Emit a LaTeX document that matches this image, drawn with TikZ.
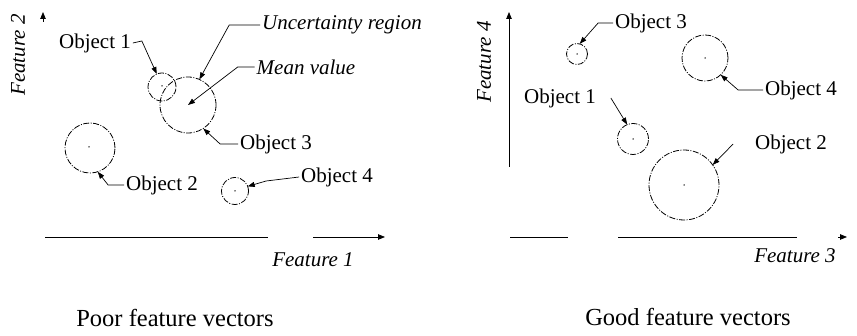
\documentclass[tikz,border=0pt]{standalone}
\usepackage{fontspec}
\setmainfont{Liberation Serif}
\usetikzlibrary{arrows.meta}
\begin{document}
\begin{tikzpicture}[x=1pt,y=-1pt,
  lbl/.style={inner sep=0pt,outer sep=2pt,font=\fontsize{21}{24}\selectfont},
  ilbl/.style={lbl,font=\fontsize{21}{24}\selectfont\itshape},
  captext/.style={inner sep=0pt,font=\fontsize{24.5}{28}\selectfont},
  obj/.style={circle,draw,line width=0.8pt,inner sep=0pt,outer sep=0pt,
    dash pattern=on 6pt off 1.5pt on 1pt off 1.5pt},
  conn/.style={line width=0.7pt,-{Triangle[length=7pt,width=5pt]}},
  axis/.style={line width=0.8pt},
  axarrow/.style={line width=0.8pt,-{Triangle[length=7pt,width=5.5pt]}},
  ctr/.style={fill,circle,inner sep=0pt,minimum size=1.5pt}]
\useasboundingbox[fill=white] (0,0) rectangle (857,336);

% ---------- left panel ----------
\draw[axarrow] (43,22) -- (43,12);
\draw[axis] (45,237) -- (268,237);
\draw[axarrow] (313,237) -- (385,237);
\node[ilbl,rotate=90] (f2) at (18,55) {Feature 2};
\node[ilbl] (f1) at (313,260) {Feature 1};

\node[obj,minimum size=28pt] (o1) at (162,87) {};
\node[ctr] (c1) at (162,86) {};
\node[obj,minimum size=56pt] (o3) at (188,105) {};
\node[obj,minimum size=50pt] (o2) at (90,148) {};
\node[ctr] (c2) at (89,147) {};
\node[obj,minimum size=27pt] (o4) at (235,191) {};
\node[ctr] (c4) at (235,191) {};

\node[lbl] (l1) at (95,43) {Object 1};
\node[ilbl] (lu) at (342,25) {Uncertainty region};
\node[ilbl] (lm) at (306,67) {Mean value};
\node[lbl] (l3) at (276,144) {Object 3};
\node[lbl] (l2) at (162,185) {Object 2};
\node[lbl] (l4) at (337,177) {Object 4};

\draw[conn] (l1.east) -- ++(9,-2) -- (o1.112);
\draw[conn] (lu.west) -- ++(-31,0) -- (o3.66);
\draw[conn] (lm.west) -- ++(-17,0) -- (o3.center);
\draw[conn] (l3.west) -- ++(-18,0) -- (o3.-57);
\draw[conn] (l2.west) -- ++(-16,0) -- (o2.-72);
\draw[conn] (l4.west) -- ++(-33,4) -- (o4.20);

\node[captext] (t1) at (175,318) {Poor feature vectors};

% ---------- right panel ----------
\draw[axarrow] (509,167) -- (509,12);
\draw[axis] (510,237) -- (568,237);
\draw[axis] (618,237) -- (797,237);
\draw[axarrow] (838,237) -- (847,237);
\node[ilbl,rotate=90] (f4) at (484,62) {Feature 4};
\node[ilbl] (f3) at (795,256) {Feature 3};

\node[obj,minimum size=21pt] (r3c) at (577,54) {};
\node[ctr] (rc3) at (577,54) {};
\node[obj,minimum size=46pt] (r4c) at (705,58) {};
\node[ctr] (rc4) at (705,58) {};
\node[obj,minimum size=31pt] (r1c) at (633,139) {};
\node[ctr] (rc1) at (633,139) {};
\node[obj,minimum size=70pt] (r2c) at (684,185) {};
\node[ctr] (rc2) at (684,185) {};

\node[lbl] (r3) at (651,23) {Object 3};
\node[lbl] (r4) at (801,90) {Object 4};
\node[lbl] (r1) at (560,98) {Object 1};
\node[lbl] (r2) at (791,144) {Object 2};

\draw[conn] (r3.west) -- ++(-15,0) -- (r3c.75);
\draw[conn] (r4.west) -- ++(-25,0) -- (r4c.-47);
\draw[conn] (r1.east) ++(13,0) -- (r1c.112);
\draw[conn] (r2.west) ++(-20,0) -- (r2c.35);

\node[captext] (t2) at (688,317) {Good feature vectors};
\end{tikzpicture}
\end{document}
